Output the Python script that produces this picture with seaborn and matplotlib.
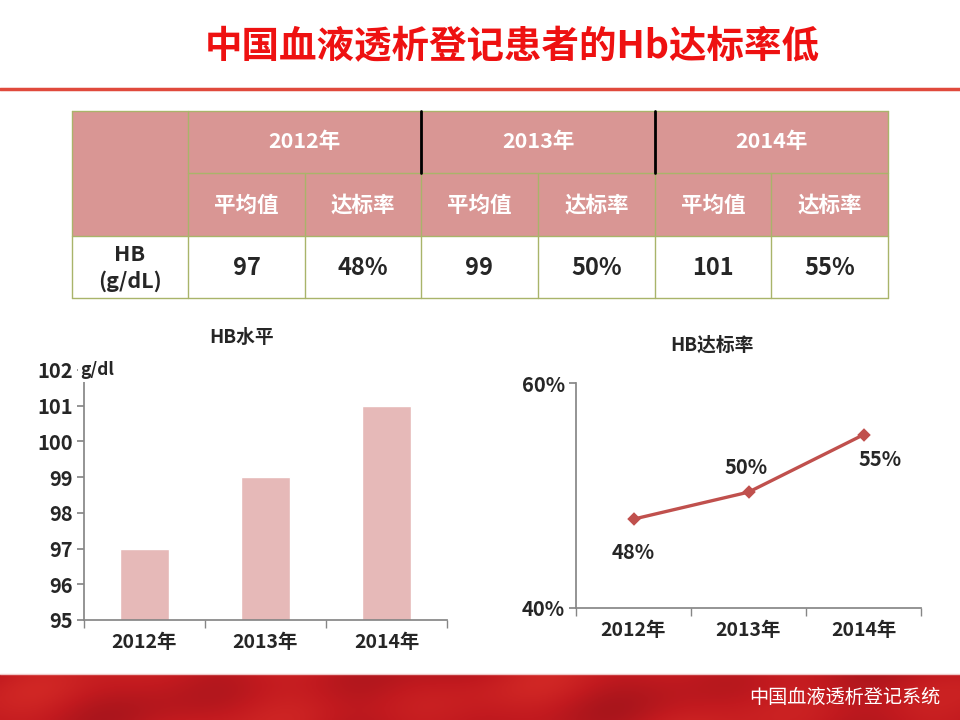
import matplotlib.pyplot as plt
import numpy as np
import pandas as pd
import seaborn as sns
from matplotlib.colors import LinearSegmentedColormap
from matplotlib.patches import Rectangle

title = "中国血液透析登记患者的Hb达标率低"
footer = "中国血液透析登记系统"

years = ["2012年", "2013年", "2014年"]
sub_headers = ["平均值", "达标率"]
row_label = "HB\n(g/dL)"
hb_mean = [97, 99, 101]
hb_rate = [0.479, 0.503, 0.554]
rate_text = ["48%", "50%", "55%"]

sns.set_theme(style="white")
plt.rcParams["font.family"] = ["Noto Sans CJK SC", "DejaVu Sans"]
plt.rcParams["axes.unicode_minus"] = False

fig = plt.figure(figsize=(9.6, 7.2), dpi=100)
fig.patch.set_facecolor("white")

# full-figure overlay in pixel coordinates for title, table, footer
bg = fig.add_axes([0, 0, 1, 1])
bg.set_xlim(0, 960)
bg.set_ylim(720, 0)
bg.axis("off")

bg.text(512, 47, title, ha="center", va="center", fontsize=27,
        fontweight="heavy", color="#ee1111")
bg.plot([0, 960], [89, 89], color="#e04a3c", lw=2.5)

# footer band (textured red)
reds = LinearSegmentedColormap.from_list("reds", ["#a3141b", "#c21a1f", "#d42a26"])
xx, yy = np.meshgrid(np.linspace(0, 1, 480), np.linspace(0, 1, 24))
band = 0.5 + 0.3 * np.sin(xx * 19 + yy * 2.5) * np.cos(xx * 6 - yy) + 0.1 * np.sin(xx * 47)
bg.imshow(band, extent=(0, 960, 720, 674), cmap=reds, vmin=0, vmax=1,
          aspect="auto", zorder=1)
bg.plot([0, 960], [674, 674], color="#f0c8c8", lw=1, zorder=2)
bg.text(940, 697, footer, ha="right", va="center", fontsize=13.8,
        color="white", zorder=3)
bg.set_xlim(0, 960)
bg.set_ylim(720, 0)

# table
head_fill = "#d99694"
grid_col = "#a9b46a"
x_edges = [72, 188, 305, 421, 538, 655, 771, 888]
bg.add_patch(Rectangle((72, 111), 816, 125, facecolor=head_fill,
                       edgecolor="none", zorder=1))
for x in x_edges:
    y0 = 173 if x in (305, 538, 771) else 111
    bg.plot([x, x], [y0, 298], color=grid_col, lw=1, zorder=2)
bg.plot([72, 888], [111, 111], color=grid_col, lw=1, zorder=2)
bg.plot([188, 888], [173, 173], color=grid_col, lw=1, zorder=2)
bg.plot([72, 888], [236, 236], color=grid_col, lw=1, zorder=2)
bg.plot([72, 888], [298, 298], color=grid_col, lw=1, zorder=2)
for x in (421, 655):
    bg.plot([x, x], [111, 173], color="black", lw=2, zorder=3)

for i, yr in enumerate(years):
    xc = (x_edges[1 + 2 * i] + x_edges[3 + 2 * i]) / 2
    bg.text(xc, 142, yr, ha="center", va="center", fontsize=15.5,
            fontweight="bold", color="white", zorder=4)
    for j, sub in enumerate(sub_headers):
        xm = (x_edges[1 + 2 * i + j] + x_edges[2 + 2 * i + j]) / 2
        bg.text(xm, 205, sub, ha="center", va="center", fontsize=15.5,
                fontweight="bold", color="white", zorder=4)
    bg.text((x_edges[1 + 2 * i] + x_edges[2 + 2 * i]) / 2, 268, str(hb_mean[i]),
            ha="center", va="center", fontsize=17, fontweight="bold", zorder=4)
    bg.text((x_edges[2 + 2 * i] + x_edges[3 + 2 * i]) / 2, 268, rate_text[i],
            ha="center", va="center", fontsize=17, fontweight="bold", zorder=4)
bg.text(130, 268, row_label, ha="center", va="center", fontsize=15.5,
        fontweight="bold", linespacing=1.3, zorder=4)

axis_col = "#868686"


def style_axes(ax):
    ax.set_xlim(-0.5, 2.5)
    ax.set_xticks([-0.5, 0.5, 1.5, 2.5], minor=False)
    ax.set_xticklabels([])
    ax.set_xticks([0, 1, 2], minor=True)
    ax.set_xticklabels(years, minor=True)
    ax.tick_params(axis="x", which="major", direction="out", length=6,
                   color=axis_col, width=1, bottom=True)
    ax.tick_params(axis="x", which="minor", length=0, pad=9, labelsize=14)
    ax.tick_params(axis="y", direction="out", length=5, color=axis_col,
                   left=True, labelsize=14.5, pad=3)
    for lab in ax.get_xticklabels(minor=True) + ax.get_yticklabels():
        lab.set_fontweight("bold")
    ax.set_xlabel("")
    ax.set_ylabel("")
    ax.spines[["top", "right"]].set_visible(False)
    ax.spines[["left", "bottom"]].set_color(axis_col)


# bar chart
ax1 = fig.add_axes([84 / 960, 1 - 620 / 720, 363 / 960, 250 / 720])
df_bar = pd.DataFrame({"year": years, "hb": hb_mean})
sns.barplot(data=df_bar, x="year", y="hb", color="#e6b9b8", saturation=1,
            width=0.4, ax=ax1)
ax1.set_ylim(95, 102)
ax1.set_yticks(range(95, 103))
style_axes(ax1)
ax1.text(0.435, 1.13, "HB水平", transform=ax1.transAxes, fontsize=13.5,
         fontweight="bold", ha="center", va="center")
ax1.text(-0.01, 1.0, "g/dl", transform=ax1.transAxes, fontsize=12.5,
         fontweight="bold", ha="left", va="center",
         bbox=dict(facecolor="white", edgecolor="none", pad=2))

# line chart
ax2 = fig.add_axes([576 / 960, 1 - 608 / 720, 345 / 960, 225 / 720])
df_line = pd.DataFrame({"year": years, "rate": hb_rate})
sns.pointplot(data=df_line, x="year", y="rate", color="#c0504d",
              markers="D", markersize=5, linewidth=2.4, ax=ax2)
ax2.set_ylim(0.4, 0.6)
ax2.set_yticks([0.4, 0.6])
ax2.set_yticklabels(["40%", "60%"])
style_axes(ax2)
ax2.text(0.395, 1.17, "HB达标率", transform=ax2.transAxes, fontsize=13.5,
         fontweight="bold", ha="center", va="center")
offsets = [(0, -33), (-2, 25), (17, -25)]
for i, (v, t) in enumerate(zip(hb_rate, rate_text)):
    ax2.annotate(t, (i, v), xytext=offsets[i], textcoords="offset pixels",
                 ha="center", va="center", fontsize=14.5, fontweight="bold")

fig.savefig("out.png", dpi=100, facecolor="white")
